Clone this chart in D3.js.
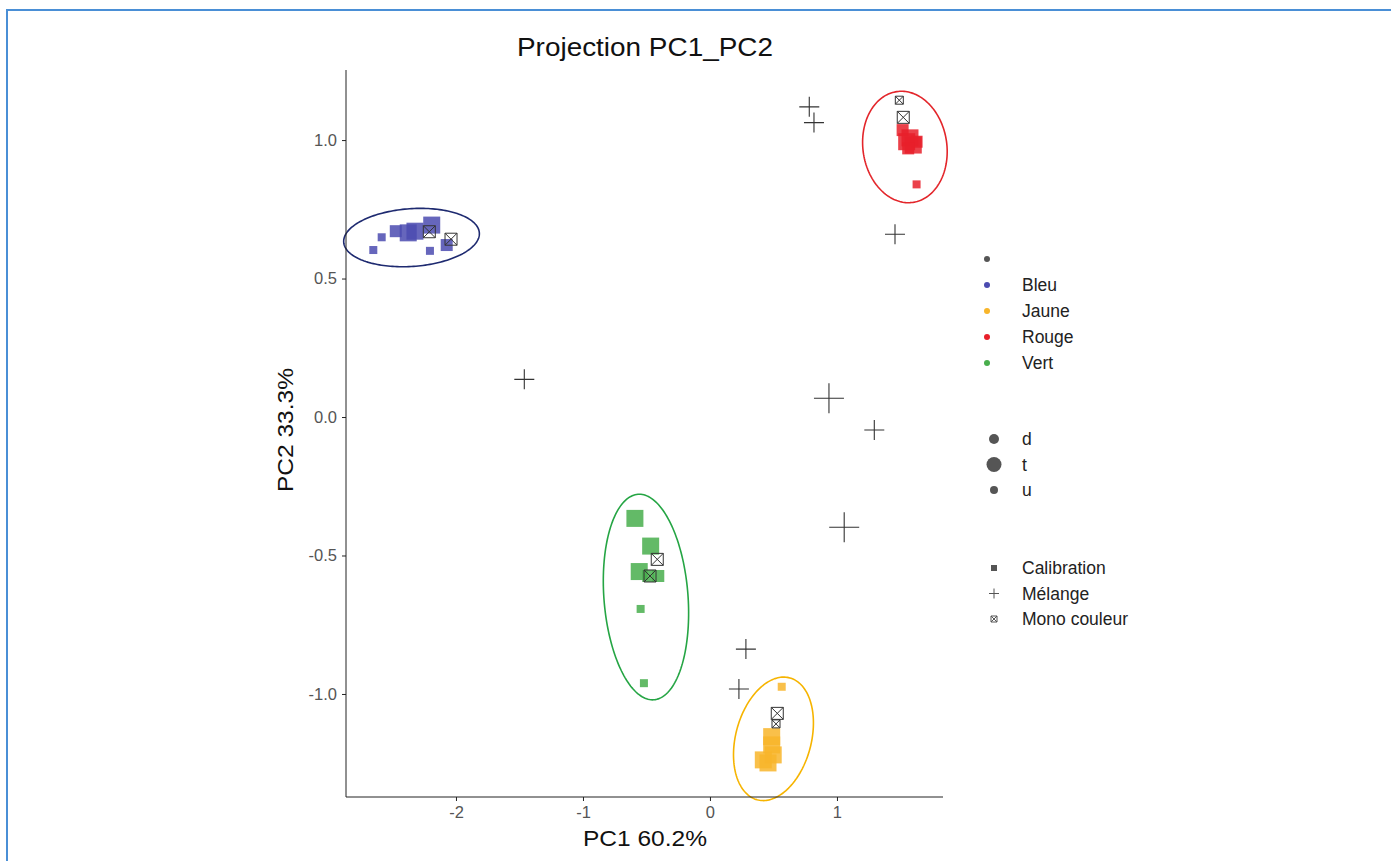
<!DOCTYPE html>
<html lang="fr">
<head>
  <meta charset="utf-8">
  <title>Projection PC1_PC2</title>
  <style>
    body {
      margin: 0;
      background: #fff;
    }

    text {
      font-family: "Liberation Sans", Arial, sans-serif;
    }

    .axis path, .axis line {
      stroke: #222;
    }

    .axis text {
      fill: #555;
      font-size: 16.5px;
    }
  </style>
</head>
<body>

  <svg width="1391" height="861"></svg>
  <script src="https://cdn.jsdelivr.net/npm/d3@7"></script>
  <script>

  // points : [PC1, PC2, taille]
  var bleuCalib = [
    [-2.651, 0.603, "u"], [-2.585, 0.649, "u"], [-2.474, 0.671, "d"], [-2.376, 0.665, "t"],
    [-2.323, 0.671, "t"], [-2.191, 0.693, "t"], [-2.205, 0.600, "u"], [-2.073, 0.621, "d"]
  ];
  var rougeCalib = [
    [1.517, 1.036, "d"], [1.575, 1.008, "t"], [1.549, 0.994, "t"], [1.601, 0.982, "t"],
    [1.627, 0.994, "d"], [1.561, 0.970, "d"], [1.627, 0.840, "u"]
  ];
  var vertCalib = [
    [-0.591, -0.366, "t"], [-0.467, -0.466, "t"], [-0.557, -0.558, "t"], [-0.486, -0.574, "d"],
    [-0.407, -0.574, "d"], [-0.546, -0.693, "u"], [-0.520, -0.961, "u"]
  ];
  var jauneCalib = [
    [0.565, -0.974, "u"], [0.486, -1.154, "t"], [0.486, -1.184, "t"], [0.498, -1.220, "t"],
    [0.420, -1.238, "t"], [0.457, -1.249, "t"]
  ];
  var monoCouleur = [
    [-2.210, 0.669, "d"], [-2.039, 0.642, "d"], [1.491, 1.144, "u"], [1.522, 1.082, "d"],
    [-0.415, -0.514, "d"], [-0.472, -0.574, "d"], [0.530, -1.070, "d"], [0.520, -1.108, "u"]
  ];
  var melange = [
    [0.782, 1.120, "d"], [0.819, 1.063, "d"], [1.457, 0.660, "d"], [-1.462, 0.136, "d"],
    [0.937, 0.068, "t"], [1.294, -0.047, "d"], [1.057, -0.398, "t"], [0.283, -0.838, "d"],
    [0.228, -0.982, "d"]
  ];

  // ellipses : centre + demi-axes conjugues (unites PC)
  var ellipses = [
    { groupe: "Bleu",  cx: -2.350, cy: 0.648,  ux: 0.534,  uy: 0.017,  vx: 0.016, vy: -0.104 },
    { groupe: "Rouge", cx: 1.535,  cy: 0.975,  ux: 0.0635, uy: -0.200, vx: 0.327, vy: 0.0218 },
    { groupe: "Vert",  cx: -0.504, cy: -0.650, ux: 0.0628, uy: -0.371, vx: 0.330, vy: 0.0117 },
    { groupe: "Jaune", cx: 0.500,  cy: -1.162, ux: -0.129, uy: -0.220, vx: 0.287, vy: -0.036 }
  ];

  var groupes = ["", "Bleu", "Jaune", "Rouge", "Vert"];
  var tailles = ["d", "t", "u"];
  var types = ["Calibration", "Mélange", "Mono couleur"];
  var xTicks = [-2, -1, 0, 1];
  var yTicks = [-1.0, -0.5, 0.0, 0.5, 1.0];

  var couleurPoint = { "": "#555555", Bleu: "#4b4bb0", Jaune: "#f8b52a", Rouge: "#e8202a", Vert: "#48ae4c" };
  var couleurEllipse = { Bleu: "#1e2a70", Jaune: "#f6b400", Rouge: "#e3262b", Vert: "#25a544" };
  var coteCarre = { d: 12, t: 17, u: 8 };
  var brasCroix = { d: 10, t: 15, u: 7 };
  var rayonLegende = { d: 5, t: 7.5, u: 4 };

  var svg = d3.select("svg");

  // cadre bleu
  svg.append("path")
      .attr("d", "M7,861 L7,10 L1391,10")
      .attr("fill", "none")
      .attr("stroke", "#4a8fd6")
      .attr("stroke-width", 2);

  var x = d3.scaleLinear().domain([-2.866, 1.835]).range([346, 943]);
  var y = d3.scaleLinear().domain([-1.372, 1.253]).range([797, 70]);

  var plot = svg.append("g");

  // ellipses
  var ang = d3.range(0, 2 * Math.PI + 0.01, Math.PI / 90);
  var ligne = d3.line()
      .x(function(p) { return x(p[0]); })
      .y(function(p) { return y(p[1]); });

  plot.append("g")
    .selectAll("path")
    .data(ellipses)
    .enter().append("path")
      .attr("d", function(e) {
        return ligne(ang.map(function(t) {
          return [e.cx + e.ux * Math.cos(t) + e.vx * Math.sin(t),
                  e.cy + e.uy * Math.cos(t) + e.vy * Math.sin(t)];
        }));
      })
      .attr("fill", "none")
      .attr("stroke", function(e) { return couleurEllipse[e.groupe]; })
      .attr("stroke-width", 1.6);

  // carres de calibration
  var calib = [].concat(
    bleuCalib.map(function(p) { return [p[0], p[1], p[2], "Bleu"]; }),
    rougeCalib.map(function(p) { return [p[0], p[1], p[2], "Rouge"]; }),
    vertCalib.map(function(p) { return [p[0], p[1], p[2], "Vert"]; }),
    jauneCalib.map(function(p) { return [p[0], p[1], p[2], "Jaune"]; })
  );

  plot.append("g")
    .selectAll("rect")
    .data(calib)
    .enter().append("rect")
      .attr("x", function(d) { return x(d[0]) - coteCarre[d[2]] / 2; })
      .attr("y", function(d) { return y(d[1]) - coteCarre[d[2]] / 2; })
      .attr("width", function(d) { return coteCarre[d[2]]; })
      .attr("height", function(d) { return coteCarre[d[2]]; })
      .attr("fill", function(d) { return couleurPoint[d[3]]; })
      .attr("fill-opacity", 0.85);

  // melanges
  plot.append("g")
    .selectAll("path")
    .data(melange)
    .enter().append("path")
      .attr("d", function(d) {
        var cx = x(d[0]), cy = y(d[1]), a = brasCroix[d[2]];
        return "M" + (cx - a) + "," + cy + "H" + (cx + a) + "M" + cx + "," + (cy - a) + "V" + (cy + a);
      })
      .attr("stroke", "#333")
      .attr("stroke-width", 1.1);

  // mono couleur (carre barre)
  plot.append("g")
    .selectAll("path")
    .data(monoCouleur)
    .enter().append("path")
      .attr("d", function(d) {
        var cx = x(d[0]), cy = y(d[1]), h = coteCarre[d[2]] / 2;
        return "M" + (cx - h) + "," + (cy - h) + "h" + 2 * h + "v" + 2 * h + "h" + (-2 * h) + "Z" +
               "M" + (cx - h) + "," + (cy - h) + "L" + (cx + h) + "," + (cy + h) +
               "M" + (cx + h) + "," + (cy - h) + "L" + (cx - h) + "," + (cy + h);
      })
      .attr("fill", "none")
      .attr("stroke", "#333")
      .attr("stroke-width", 1);

  // axes
  svg.append("g")
      .attr("class", "axis")
      .attr("transform", "translate(0,797)")
      .call(d3.axisBottom(x).tickValues(xTicks).tickSize(4).tickPadding(5)
        .tickFormat(function(d) { return String(d); }))
      .call(function(g) { g.select(".domain").attr("d", "M346,0H943"); });

  svg.append("g")
      .attr("class", "axis")
      .attr("transform", "translate(346,0)")
      .call(d3.axisLeft(y).tickValues(yTicks).tickSize(4).tickPadding(5)
        .tickFormat(function(d) { return d.toFixed(1); }))
      .call(function(g) { g.select(".domain").attr("d", "M0,70V797"); });

  // titres
  svg.append("text")
      .attr("x", 645).attr("y", 56)
      .attr("text-anchor", "middle")
      .attr("font-size", 25)
      .attr("fill", "#111")
      .attr("textLength", 256)
      .attr("lengthAdjust", "spacingAndGlyphs")
      .text("Projection PC1_PC2");

  svg.append("text")
      .attr("x", 645).attr("y", 846)
      .attr("text-anchor", "middle")
      .attr("font-size", 22)
      .attr("fill", "#111")
      .attr("textLength", 124)
      .attr("lengthAdjust", "spacingAndGlyphs")
      .text("PC1 60.2%");

  svg.append("text")
      .attr("transform", "translate(293,430) rotate(-90)")
      .attr("text-anchor", "middle")
      .attr("font-size", 22)
      .attr("fill", "#111")
      .attr("textLength", 124)
      .attr("lengthAdjust", "spacingAndGlyphs")
      .text("PC2 33.3%");

  // legendes
  var leg = svg.append("g").attr("font-size", 17.5).attr("fill", "#222");

  var l1 = leg.selectAll("g.g1").data(groupes).enter().append("g")
      .attr("transform", function(d, i) { return "translate(987," + (259 + i * 26) + ")"; });
  l1.append("circle").attr("r", 3).attr("fill", function(d) { return couleurPoint[d]; });
  l1.append("text").attr("x", 35).attr("y", 6).text(function(d) { return d; });

  var l2 = leg.selectAll("g.g2").data(tailles).enter().append("g")
      .attr("transform", function(d, i) { return "translate(994," + (439 + i * 25.5) + ")"; });
  l2.append("circle").attr("r", function(d) { return rayonLegende[d]; }).attr("fill", "#555");
  l2.append("text").attr("x", 28).attr("y", 6).text(function(d) { return d; });

  var l3 = leg.selectAll("g.g3").data(types).enter().append("g")
      .attr("transform", function(d, i) { return "translate(994," + (568 + i * 25.5) + ")"; });
  l3.append("path")
      .attr("d", function(d, i) {
        if (i === 0) return "M-3,-3h6v6h-6Z";
        if (i === 1) return "M-5,0H5M0,-5V5";
        return "M-3,-3h6v6h-6ZM-3,-3L3,3M3,-3L-3,3";
      })
      .attr("fill", function(d, i) { return i === 0 ? "#555" : "none"; })
      .attr("stroke", "#555")
      .attr("stroke-width", function(d, i) { return i === 0 ? 0 : 1; });
  l3.append("text").attr("x", 28).attr("y", 6).text(function(d) { return d; });

  </script>

</body>
</html>
